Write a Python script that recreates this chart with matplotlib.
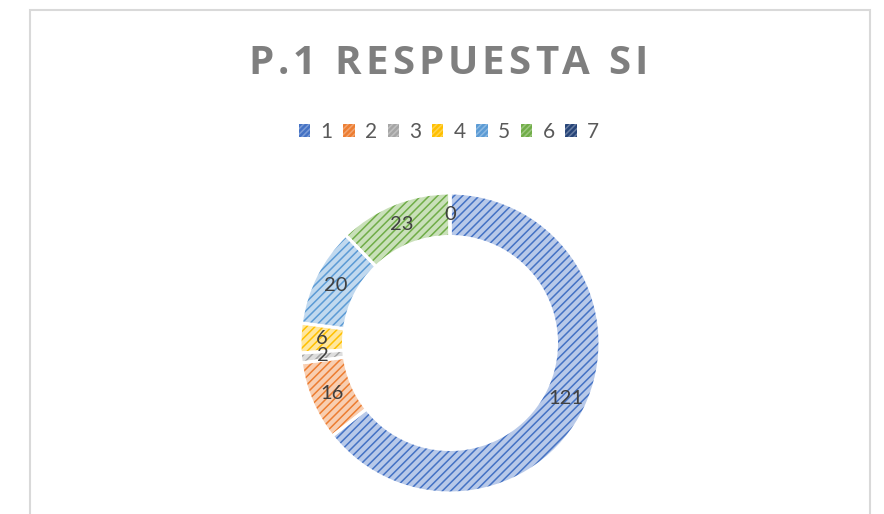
import numpy as np
import matplotlib
matplotlib.use("Agg")
import matplotlib.pyplot as plt
from matplotlib.patches import Patch, Rectangle
from matplotlib.colors import to_rgb

plt.rcParams['font.family'] = ['Lato', 'DejaVu Sans']
plt.rcParams['hatch.linewidth'] = 1.1

# datos de la pregunta 1
categorias = ['1', '2', '3', '4', '5', '6', '7']
valores = [121, 16, 2, 6, 20, 23, 0]
colores = ['#4472C4', '#ED7D31', '#A5A5A5', '#FFC000', '#5B9BD5', '#70AD47', '#264478']
titulo = 'P.1 RESPUESTA SI'


def aclarar(c, f=0.55):
    r, g, b = to_rgb(c)
    return (r + (1 - r) * f, g + (1 - g) * f, b + (1 - b) * f)


W, H = 884, 514
fig = plt.figure(figsize=(W / 100, H / 100), dpi=100)

# marco del grafico
fig.patches.append(Rectangle((30 / W, -0.1), 840 / W, 1.1 - 10 / H, transform=fig.transFigure,
                             fill=False, edgecolor='#d9d9d9', linewidth=1.5))

ax = fig.add_axes([300 / W, 21 / H, 300 / W, 300 / H])
ax.set_aspect('equal')
ax.axis('off')

ancho = 0.29
# relleno rayado
wedges, _ = ax.pie(valores, startangle=90, counterclock=False, radius=1,
                   colors=[aclarar(c, 0.62) for c in colores],
                   wedgeprops=dict(width=ancho, linewidth=0))
for w, c in zip(wedges, colores):
    w.set_hatch('////')
    w.set_edgecolor(c)
    w.set_linewidth(0)
# bordes blancos entre segmentos
ax.pie(valores, startangle=90, counterclock=False, radius=1,
       colors=['none'] * len(valores),
       wedgeprops=dict(width=ancho, linewidth=2.2, edgecolor='white', fill=False))

# etiquetas de datos
total = sum(valores)
acum = 0
for v in valores:
    ang = np.deg2rad(90 - (acum + v / 2) / total * 360)
    r = 1 - ancho / 2
    ax.text(r * np.cos(ang), r * np.sin(ang), str(v), ha='center', va='center',
            fontsize=14.5, color='#404040')
    acum += v
ax.set_xlim(-1, 1)
ax.set_ylim(-1, 1)

# titulo con espaciado entre letras
renderer = fig.canvas.get_renderer()
kw = dict(fontsize=29, fontweight='bold', color='#7f7f7f', family=['Open Sans', 'DejaVu Sans'],
          va='center', ha='left')
espacio = 4.1
anchos = []
for ch in titulo:
    t = fig.text(0, 0, ch if ch != ' ' else 'I', **kw)
    bb = t.get_window_extent(renderer)
    anchos.append(bb.width * (0.75 if ch == ' ' else 1))
    t.remove()
total_w = sum(anchos) + espacio * (len(titulo) - 1)
x = 448 - total_w / 2
for ch, a in zip(titulo, anchos):
    fig.text(x / W, 1 - 63 / H, ch, **kw)
    x += a + espacio

handles = [Patch(facecolor=c, edgecolor=aclarar(c, 0.3), hatch='//////', linewidth=0) for c in colores]
fig.legend(handles, categorias, loc='center', bbox_to_anchor=(449 / W, 1 - 132 / H), ncol=7,
           frameon=False, fontsize=15, labelcolor='#595959', handlelength=0.55, handleheight=0.55,
           handletextpad=0.5, columnspacing=0.5)

fig.savefig('out.png', dpi=100, facecolor='white')
